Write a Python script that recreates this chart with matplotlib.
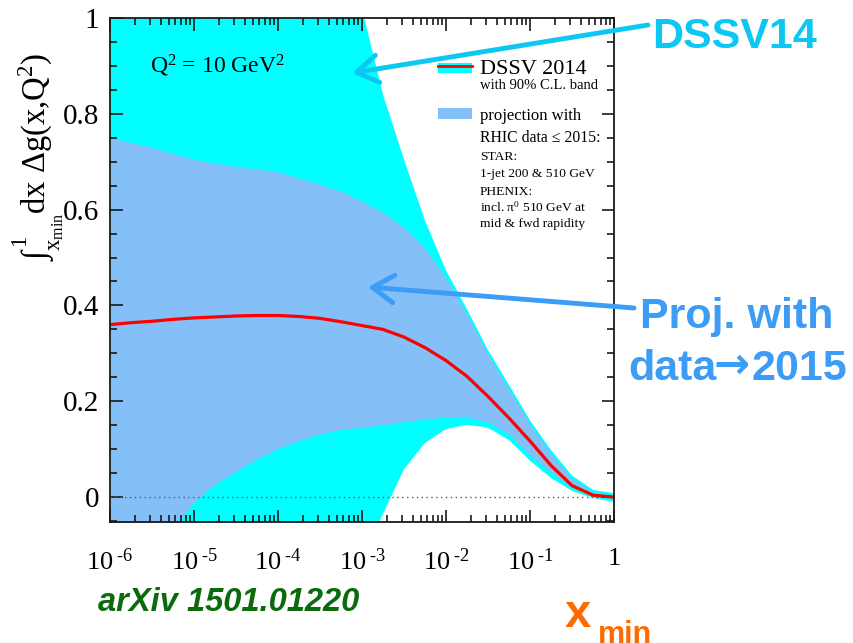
import numpy as np
import matplotlib
matplotlib.use('Agg')
import matplotlib.pyplot as plt
from matplotlib.patches import Rectangle
from matplotlib.ticker import MultipleLocator, LogLocator, NullFormatter

plt.rcParams['font.family'] = ['Liberation Serif', 'DejaVu Serif']
plt.rcParams['mathtext.fontset'] = 'custom'
plt.rcParams['mathtext.rm'] = 'Liberation Serif'
plt.rcParams['mathtext.it'] = 'Liberation Serif:italic'
plt.rcParams['mathtext.bf'] = 'Liberation Serif:bold'

# log10(x_min) grid the values were read at
log_x = [-6, -5.75, -5.5, -5.25, -5, -4.75, -4.5, -4.25, -4, -3.75, -3.5, -3.25,
         -3, -2.75, -2.5, -2.25, -2, -1.75, -1.5, -1.25, -1, -0.75, -0.5, -0.25, 0]

# DSSV 2014 central value
dssv_central = [0.360, 0.364, 0.367, 0.371, 0.374, 0.376, 0.378, 0.379, 0.379, 0.377, 0.373, 0.366,
                0.358, 0.350, 0.334, 0.312, 0.285, 0.252, 0.210, 0.165, 0.117, 0.066, 0.024, 0.004, 0.0]
# DSSV 2014 90% C.L. band
dssv_upper = [1.2, 1.2, 1.2, 1.2, 1.2, 1.2, 1.2, 1.2, 1.2, 1.2, 1.2, 1.15,
              1.02, 0.84, 0.705, 0.577, 0.473, 0.392, 0.307, 0.234, 0.160, 0.098, 0.045, 0.015, 0.008]
dssv_lower = [-0.3, -0.3, -0.3, -0.3, -0.3, -0.3, -0.3, -0.3, -0.3, -0.3, -0.3, -0.22,
              -0.13, -0.035, 0.058, 0.113, 0.142, 0.151, 0.145, 0.119, 0.076, 0.040, 0.013, -0.002, -0.01]
# projection with RHIC data <= 2015
proj_upper = [0.750, 0.740, 0.730, 0.717, 0.705, 0.697, 0.690, 0.685, 0.679, 0.666, 0.653, 0.638,
              0.618, 0.594, 0.563, 0.520, 0.457, 0.382, 0.298, 0.225, 0.152, 0.090, 0.038, 0.010, 0.0]
proj_lower = [-0.25, -0.19, -0.13, -0.07, -0.01, 0.027, 0.054, 0.080, 0.101, 0.118, 0.132, 0.141,
              0.146, 0.151, 0.157, 0.163, 0.167, 0.167, 0.157, 0.131, 0.088, 0.052, 0.023, 0.006, 0.0]

x_ticks = [1e-6, 1e-5, 1e-4, 1e-3, 1e-2, 1e-1, 1]
x_ticklabels = [r'$\mathregular{10^{\;\text{-}6}}$', r'$\mathregular{10^{\;\text{-}5}}$',
                r'$\mathregular{10^{\;\text{-}4}}$', r'$\mathregular{10^{\;\text{-}3}}$',
                r'$\mathregular{10^{\;\text{-}2}}$', r'$\mathregular{10^{\;\text{-}1}}$', '1']
y_ticks = [0, 0.2, 0.4, 0.6, 0.8, 1]
y_ticklabels = ['0', '0.2', '0.4', '0.6', '0.8', '1']

W, H = 854, 643
x = 10.0 ** np.array(log_x)

fig = plt.figure(figsize=(W / 100, H / 100), dpi=100)
ax = fig.add_axes([110 / W, 1 - 522 / H, 504 / W, 504 / H])

ax.fill_between(x, dssv_lower, dssv_upper, color='#00FFFF', lw=0)
ax.fill_between(x, proj_lower, proj_upper, color='#84BFF7', lw=0)
ax.axhline(0, color='0.35', ls=(0, (1, 2.5)), lw=1)
ax.plot(x, dssv_central, color='#FF0000', lw=2.3)

ax.set_xscale('log')
ax.set_xlim(1e-6, 1)
ax.set_ylim(-0.052, 1.0)
ax.set_xticks(x_ticks)
ax.set_xticklabels(x_ticklabels)
ax.xaxis.set_minor_locator(LogLocator(base=10, subs=np.arange(2, 10)))
ax.xaxis.set_minor_formatter(NullFormatter())
ax.set_yticks(y_ticks)
ax.set_yticklabels(y_ticklabels)
ax.yaxis.set_minor_locator(MultipleLocator(0.05))
ax.tick_params(which='both', direction='in', top=True, right=True, width=1.2, color='0.1')
ax.tick_params(which='major', length=9)
ax.tick_params(which='minor', length=5)
ax.tick_params(axis='x', which='major', labelsize=19, pad=19)
ax.tick_params(axis='y', which='major', labelsize=21, pad=8)
for s in ax.spines.values():
    s.set_linewidth(1.3)
    s.set_color('0.1')


def ptext(px, py, s, **kw):
    return fig.text(px / W, 1 - py / H, s, **kw)


# axis title (rotated)
ptext(38, 157, r'$\int_{\mathregular{x_{min}}}^{\mathregular{1}}$dx $\Delta$g(x,Q$\mathregular{^{2}}$)',
      rotation=90, ha='center', va='center', fontsize=23.5)

ptext(150, 73, r'$\mathregular{Q^{2}}$ = 10 GeV$\mathregular{^{2}}$', fontsize=17, va='baseline')

# legend
fig.add_artist(Rectangle((438 / W, 1 - 73 / H), 34 / W, 10 / H, transform=fig.transFigure,
                         color='#00FFFF', lw=0))
fig.add_artist(plt.Line2D([438 / W, 472 / W], [1 - 66 / H, 1 - 66 / H], transform=fig.transFigure,
                          color='#FF0000', lw=2))
fig.add_artist(Rectangle((438 / W, 1 - 119 / H), 34 / W, 11 / H, transform=fig.transFigure,
                         color='#84BFF7', lw=0))
ptext(480, 74, 'DSSV 2014', fontsize=16, va='baseline')
ptext(480, 89, 'with 90% C.L. band', fontsize=10.5, va='baseline')
ptext(480, 120, 'projection with', fontsize=12, va='baseline')
ptext(480, 142, 'RHIC data \u2264 2015:', fontsize=11.3, va='baseline')
ptext(480, 160, 'STAR:', fontsize=9.7, va='baseline')
ptext(480, 177, '1-jet 200 & 510 GeV', fontsize=9.7, va='baseline')
ptext(480, 195, 'PHENIX:', fontsize=9.7, va='baseline')
ptext(480, 212, r'incl. $\mathregular{\pi^{0}}$ 510 GeV at', fontsize=9.7, va='baseline')
ptext(480, 227, 'mid & fwd rapidity', fontsize=9.7, va='baseline')

# slide annotations
sans = ['Liberation Sans', 'DejaVu Sans']
cyan_txt = '#0BC8F2'
blue_txt = '#3C9CF6'
big = dict(fontsize=31, fontweight='bold', va='baseline')
ptext(652, 48, 'DSSV14', color=cyan_txt, family=sans, **big)
ptext(737, 328, 'Proj. with', color=blue_txt, family=sans, ha='center', **big)
ptext(628, 380, 'data', color=blue_txt, family=sans, ha='left', **big)
ptext(732, 378, '\u2192', color=blue_txt, family=['DejaVu Sans'], ha='center', **big)
ptext(752, 380, '2015', color=blue_txt, family=sans, ha='left', **big)
ptext(98, 611, 'arXiv 1501.01220', fontsize=23.5, fontweight='bold', style='italic', color='#0B6B0B',
      family=sans, va='baseline')
ptext(565, 627, 'x', fontsize=34, fontweight='bold', color='#FF6A00', family=sans, va='baseline')
ptext(598, 643, 'min', fontsize=22, fontweight='bold', color='#FF6A00', family=sans, va='baseline')

arrow_kw = dict(arrowstyle='->,head_length=0.7,head_width=0.45', lw=3.5, mutation_scale=22,
                shrinkA=0, shrinkB=0)
ax.annotate('', xy=(352, H - 73), xycoords='figure pixels', xytext=(648, H - 25),
            textcoords='figure pixels', arrowprops=dict(color=cyan_txt, **arrow_kw),
            annotation_clip=False)
ax.annotate('', xy=(368, H - 287), xycoords='figure pixels', xytext=(634, H - 308),
            textcoords='figure pixels', arrowprops=dict(color=blue_txt, **arrow_kw),
            annotation_clip=False)

fig.savefig('out.png', dpi=100)
